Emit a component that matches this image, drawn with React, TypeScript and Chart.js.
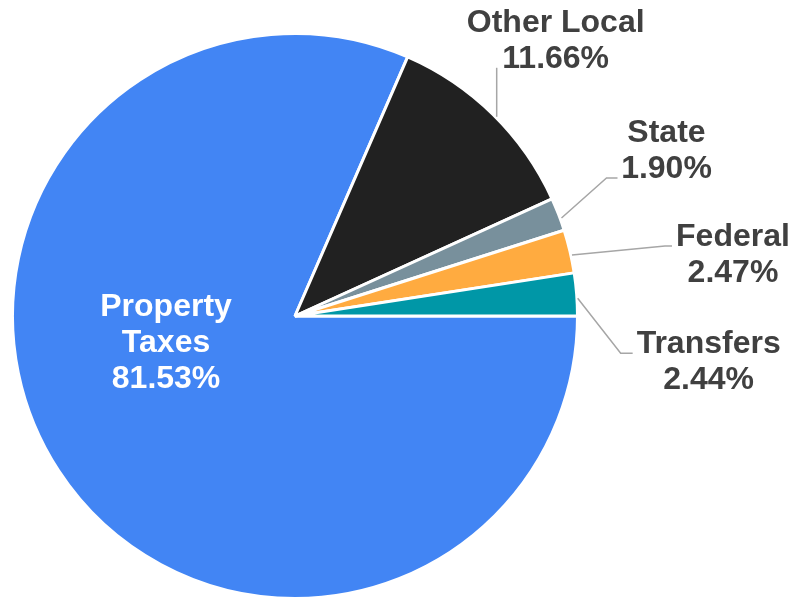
import React, { useEffect, useRef } from "react";
import { Chart, registerables } from "chart.js";

Chart.register(...registerables);

const categories = ["Property Taxes", "Other Local", "State", "Federal", "Transfers"];
const shares = [81.53, 11.66, 1.9, 2.47, 2.44];
const sliceColors = ["#4285F4", "#212121", "#78909C", "#FFAB40", "#0097A7"];

// label layout (style): offsets from the slice's outer mid-point anchor
type LabelLayout = {
  inside?: boolean;
  angleDeg?: number;
  distFrac?: number;
  nudge?: number[];
  lines?: number[][];
  dx?: number;
  dy?: number;
};
const labelLayout: LabelLayout[] = [
  { inside: true, angleDeg: 169, distFrac: 0.465 },
  { nudge: [3, 3], lines: [[0, -49]], dx: 59, dy: -85 },
  { nudge: [2, 4], lines: [[45, -40], [56, -40]], dx: 105, dy: -76 },
  { nudge: [1, 4], lines: [[93, -9], [100, -9]], dx: 161, dy: -9 },
  { nudge: [0, 4], lines: [[43, 55], [55, 55]], dx: 131, dy: 55 },
];

const FONT = 'bold 32px "Liberation Sans", Arial, sans-serif';
const LINE_H = 36;

const labelPlugin = {
  id: "pieLabels",
  afterDatasetsDraw(chart: any) {
    const ctx = chart.ctx as CanvasRenderingContext2D;
    const meta = chart.getDatasetMeta(0);
    ctx.save();
    ctx.font = FONT;
    ctx.textAlign = "center";
    ctx.textBaseline = "alphabetic";
    meta.data.forEach((arc: any, i: number) => {
      const lay = labelLayout[i];
      const name = categories[i];
      const pct = shares[i].toFixed(2) + "%";
      const cx = arc.x;
      const cy = arc.y;
      const r = arc.outerRadius;
      if (lay.inside) {
        const a = ((lay.angleDeg || 0) * Math.PI) / 180;
        const px = cx + Math.cos(a) * r * (lay.distFrac || 0.5);
        const py = cy + Math.sin(a) * r * (lay.distFrac || 0.5);
        const rows = [...name.split(" "), pct];
        ctx.fillStyle = "#FFFFFF";
        const startY = py - ((rows.length - 1) * LINE_H) / 2 + 11;
        rows.forEach((t, k) => ctx.fillText(t, px, startY + k * LINE_H));
        return;
      }
      const mid = (arc.startAngle + arc.endAngle) / 2;
      const n = lay.nudge || [0, 0];
      const ax = cx + Math.cos(mid) * (r + 1) + n[0];
      const ay = cy + Math.sin(mid) * (r + 1) + n[1];
      ctx.strokeStyle = "#A6A6A6";
      ctx.lineWidth = 1.5;
      ctx.beginPath();
      ctx.moveTo(ax, ay);
      (lay.lines || []).forEach((p) => ctx.lineTo(ax + p[0], ay + p[1]));
      ctx.stroke();
      ctx.fillStyle = "#404040";
      const lx = ax + (lay.dx || 0);
      const ly = ay + (lay.dy || 0);
      ctx.fillText(name, lx, ly);
      ctx.fillText(pct, lx, ly + LINE_H);
    });
    ctx.restore();
  },
};

export default function App() {
  const ref = useRef<HTMLCanvasElement | null>(null);
  useEffect(() => {
    if (!ref.current) return;
    const chart = new Chart(ref.current, {
      type: "pie",
      data: {
        labels: categories,
        datasets: [
          {
            data: shares,
            backgroundColor: sliceColors,
            borderColor: "#FFFFFF",
            borderWidth: 3,
          },
        ],
      },
      options: {
        animation: false,
        responsive: true,
        maintainAspectRatio: false,
        rotation: 90,
        radius: 282.5,
        layout: { padding: { left: 0, right: 206, top: 33, bottom: 0 } },
        plugins: {
          legend: { display: false },
          tooltip: { enabled: false },
        },
      },
      plugins: [labelPlugin],
    });
    return () => chart.destroy();
  }, []);
  return (
    <div style={{ position: "fixed", left: 0, top: 0, width: 796, height: 599, background: "#FFFFFF" }}>
      <canvas ref={ref} />
    </div>
  );
}
